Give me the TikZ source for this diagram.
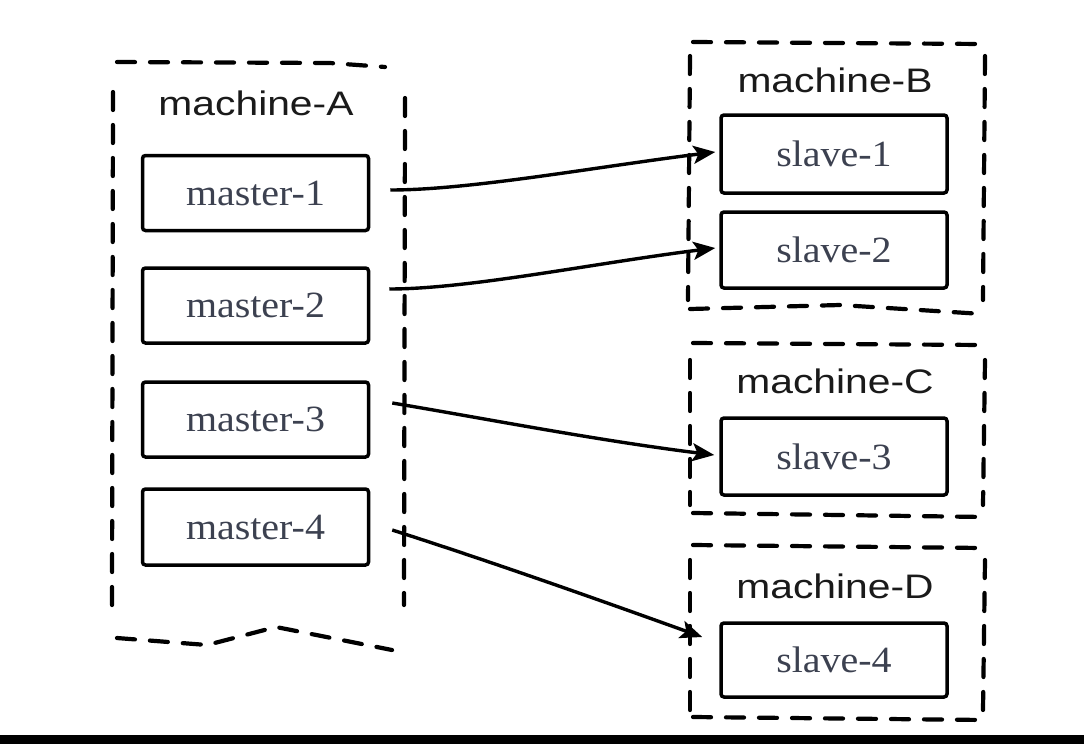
\documentclass[tikz,border=0pt]{standalone}
\usepackage{fontspec}
\usetikzlibrary{arrows.meta,calc}
\newfontfamily\titlefont[FakeStretch=1.2]{Liberation Sans}
\newfontfamily\boxfont[FakeStretch=1.08]{Liberation Serif}
\definecolor{boxtext}{HTML}{3C4150}
\definecolor{titletext}{HTML}{1A1A1A}
\tikzset{
  dashbox/.style={line width=4.2pt, dash pattern=on 18pt off 15pt, line cap=round, line join=round},
  hostbox/.style={draw, line width=3.5pt, rounded corners=3pt, minimum width=226pt, minimum height=76pt, inner sep=0pt,
    font=\boxfont\fontsize{37}{42}\selectfont, text=boxtext},
  hosttitle/.style={anchor=base, font=\titlefont\fontsize{34}{40}\selectfont, text=titletext},
  link/.style={line width=3.4pt, -{Stealth[length=22pt,width=18pt,inset=5pt]}}
}
\begin{document}
\begin{tikzpicture}[x=1pt,y=-1pt]
\useasboundingbox (0,0) rectangle (1084,744);
\fill[white] (0,0) rectangle (1084,744);
\fill[black] (0,735) rectangle (1084,744);

% machine-A container
\draw[dashbox] (117,62) -- (330,63) -- (385,67);
\draw[dashbox] (113,92) -- (112,605);
\draw[dashbox] (405,98) -- (404,605);
\draw[dashbox] (117,638) -- (207,645) -- (276,627) -- (392,650);
% machine-B container
\draw[dashbox] (693,42) -- (983,44);
\draw[dashbox] (690,56) -- (688,300);
\draw[dashbox] (985,56) -- (983,300);
\draw[dashbox] (690,309) -- (840,305) -- (983,314);
% machine-C container
\draw[dashbox] (693,343) -- (983,345);
\draw[dashbox] (690,360) -- (690,505);
\draw[dashbox] (985,360) -- (983,505);
\draw[dashbox] (693,513) -- (985,517);
% machine-D container
\draw[dashbox] (693,545) -- (983,548);
\draw[dashbox] (690,560) -- (690,710);
\draw[dashbox] (985,560) -- (983,710);
\draw[dashbox] (693,717) -- (985,720);

% titles
\node[hosttitle] (tA) at (256,115) {machine-A};
\node[hosttitle] (tB) at (835,92) {machine-B};
\node[hosttitle] (tC) at (835,393) {machine-C};
\node[hosttitle] (tD) at (835,598) {machine-D};

% boxes
\node[hostbox, minimum height=75pt] (m1) at (255.5,193) {master-1};
\node[hostbox, minimum height=75pt] (m2) at (255.5,305.5) {master-2};
\node[hostbox, minimum height=75pt] (m3) at (255.5,419.5) {master-3};
\node[hostbox, minimum height=76pt] (m4) at (255.5,527) {master-4};
\node[hostbox, minimum height=78pt] (s1) at (834,154) {slave-1};
\node[hostbox] (s2) at (834,250) {slave-2};
\node[hostbox, minimum height=77pt] (s3) at (834,456.5) {slave-3};
\node[hostbox, minimum height=74pt] (s4) at (834,660) {slave-4};

% connectors
\draw[link] ($(m1.east)+(20,-3)$) .. controls +(80,0) and +(-120,15) .. ($(s1.west)+(-4,-2)$);
\draw[link] ($(m2.east)+(19,-16.5)$) .. controls +(80,0) and +(-120,15) .. ($(s2.west)+(-4,-2)$);
\draw[link] ($(m3.east)+(22,-16.5)$) .. controls +(90,15) and +(-120,-15) .. ($(s3.west)+(-5,-1.5)$);
\draw[link] ($(m4.east)+(22,3)$) .. controls +(100,32) and +(-100,-36) .. ($(s4.west)+(-17,-23)$);
\end{tikzpicture}
\end{document}
